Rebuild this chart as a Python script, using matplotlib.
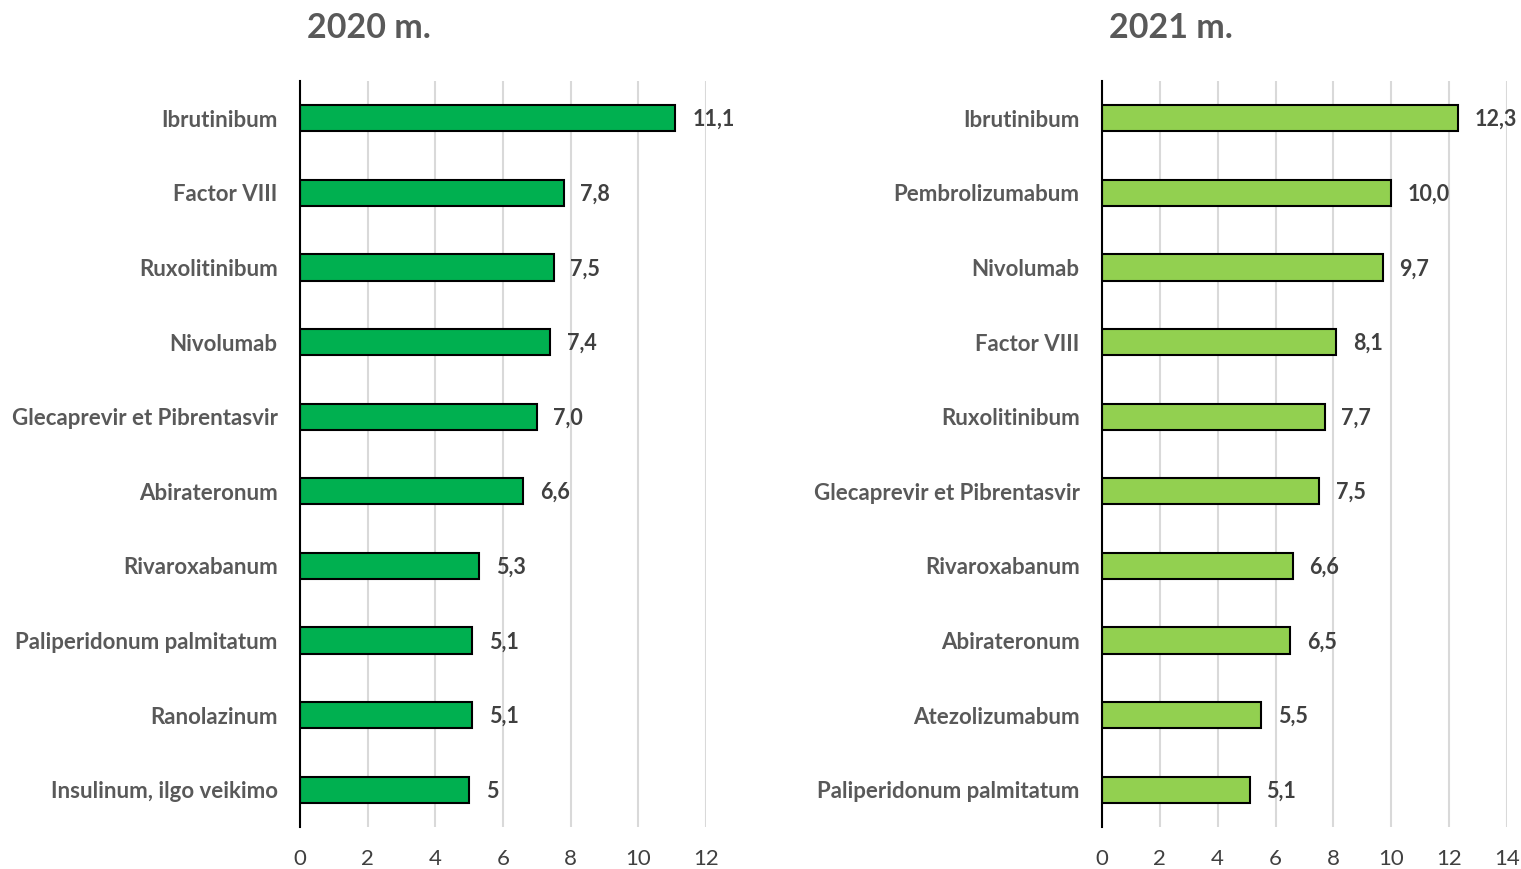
import matplotlib.pyplot as plt

plt.rcParams['font.family'] = ['Lato', 'DejaVu Sans']

# 2020
drugs_2020 = ['Ibrutinibum', 'Factor VIII', 'Ruxolitinibum', 'Nivolumab',
              'Glecaprevir et Pibrentasvir', 'Abirateronum', 'Rivaroxabanum',
              'Paliperidonum palmitatum', 'Ranolazinum', 'Insulinum, ilgo veikimo']
vals_2020 = [11.1, 7.8, 7.5, 7.4, 7.0, 6.6, 5.3, 5.1, 5.1, 5.0]
labels_2020 = ['11,1', '7,8', '7,5', '7,4', '7,0', '6,6', '5,3', '5,1', '5,1', '5']

# 2021
drugs_2021 = ['Ibrutinibum', 'Pembrolizumabum', 'Nivolumab', 'Factor VIII',
              'Ruxolitinibum', 'Glecaprevir et Pibrentasvir', 'Rivaroxabanum',
              'Abirateronum', 'Atezolizumabum', 'Paliperidonum palmitatum']
vals_2021 = [12.3, 10.0, 9.7, 8.1, 7.7, 7.5, 6.6, 6.5, 5.5, 5.1]
labels_2021 = ['12,3', '10,0', '9,7', '8,1', '7,7', '7,5', '6,6', '6,5', '5,5', '5,1']

fig = plt.figure(figsize=(15.21, 8.69), dpi=100)
ax1 = fig.add_axes([0.1972, 0.0483, 0.2669, 0.8585])
ax2 = fig.add_axes([0.7245, 0.0483, 0.2663, 0.8585])

txt = '#595959'
dark = '#404040'

def draw(ax, names, vals, labs, color, xmax):
    y = list(range(len(names)))
    ax.barh(y, vals, height=0.35, color=color, edgecolor='black', linewidth=1.5, zorder=3)
    ax.set_ylim(len(names) - 0.5, -0.5)
    ax.set_xlim(0, xmax)
    ax.set_xticks(range(0, xmax + 1, 2))
    ax.set_yticks(y)
    ax.set_yticklabels(names, fontsize=16, fontweight='bold', color=txt)
    ax.tick_params(axis='both', length=0)
    ax.tick_params(axis='y', pad=16)
    ax.tick_params(axis='x', labelsize=16, labelcolor=dark, pad=16)
    ax.grid(axis='x', color='#D9D9D9', linewidth=1.5, zorder=0)
    for s in ['top', 'right', 'bottom']:
        ax.spines[s].set_visible(False)
    ax.spines['left'].set_linewidth(1.5)
    ax.spines['left'].set_zorder(4)
    for yi, v, l in zip(y, vals, labs):
        ax.annotate(l, (v, yi), xytext=(12, -1), textcoords='offset points',
                    ha='left', va='center', fontsize=15.5, fontweight='bold', color=dark)

draw(ax1, drugs_2020, vals_2020, labels_2020, '#00B050', 12)
draw(ax2, drugs_2021, vals_2021, labels_2021, '#92D050', 14)

fig.text(0.202, 0.968, '2020 m.', fontsize=24.5, fontweight='bold', color=txt, va='center', ha='left')
fig.text(0.729, 0.968, '2021 m.', fontsize=24.5, fontweight='bold', color=txt, va='center', ha='left')

fig.savefig('out.png', dpi=100)
